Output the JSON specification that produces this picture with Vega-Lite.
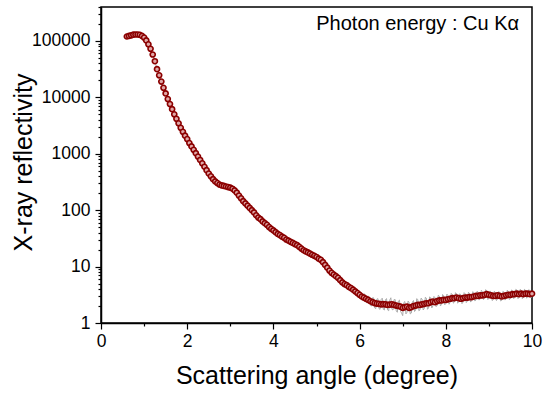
{
  "$schema": "https://vega.github.io/schema/vega-lite/v6.json",
  "width": 431,
  "height": 316,
  "autosize": {"type": "none"},
  "padding": {"left": 101, "top": 7, "right": 11, "bottom": 74},
  "background": "white",
  "config": {
    "view": {"stroke": "black", "strokeWidth": 1.5},
    "font": "Liberation Sans",
    "axis": {
      "grid": false,
      "domainColor": "black",
      "domainWidth": 1.5,
      "tickColor": "black",
      "tickWidth": 1.2,
      "labelColor": "black",
      "titleColor": "black",
      "labelFont": "Liberation Sans",
      "titleFont": "Liberation Sans",
      "labelFontSize": 17.5,
      "titleFontSize": 25,
      "titleFontWeight": "normal",
      "labelOverlap": false,
      "labelFlush": false
    }
  },
  "data": {
    "values": [
      {"x": 0.60, "y": 120000, "m": 120000},
      {"x": 0.65, "y": 123000, "m": 123000},
      {"x": 0.70, "y": 126000, "m": 126000},
      {"x": 0.75, "y": 129000, "m": 129000},
      {"x": 0.80, "y": 130300, "m": 130300},
      {"x": 0.85, "y": 130300, "m": 130300},
      {"x": 0.90, "y": 128800, "m": 128800},
      {"x": 0.95, "y": 123000, "m": 123000},
      {"x": 1.00, "y": 114800, "m": 114800},
      {"x": 1.05, "y": 102300, "m": 102300},
      {"x": 1.10, "y": 87100, "m": 87100},
      {"x": 1.15, "y": 72400, "m": 72400},
      {"x": 1.20, "y": 57500, "m": 57500},
      {"x": 1.25, "y": 43700, "m": 43700},
      {"x": 1.30, "y": 31600, "m": 31600},
      {"x": 1.35, "y": 24550, "m": 24550},
      {"x": 1.40, "y": 19050, "m": 19050},
      {"x": 1.45, "y": 14790, "m": 14790},
      {"x": 1.50, "y": 11750, "m": 11750},
      {"x": 1.55, "y": 9330, "m": 9330},
      {"x": 1.60, "y": 7590, "m": 7590},
      {"x": 1.65, "y": 6170, "m": 6170},
      {"x": 1.70, "y": 5010, "m": 5010},
      {"x": 1.75, "y": 4170, "m": 4170},
      {"x": 1.80, "y": 3470, "m": 3470},
      {"x": 1.85, "y": 2880, "m": 2880},
      {"x": 1.90, "y": 2455, "m": 2455},
      {"x": 1.95, "y": 2090, "m": 2090},
      {"x": 2.00, "y": 1820, "m": 1820},
      {"x": 2.05, "y": 1549, "m": 1549},
      {"x": 2.10, "y": 1349, "m": 1349},
      {"x": 2.15, "y": 1175, "m": 1175},
      {"x": 2.20, "y": 1023, "m": 1023},
      {"x": 2.25, "y": 891, "m": 891},
      {"x": 2.30, "y": 776, "m": 776},
      {"x": 2.35, "y": 676, "m": 676},
      {"x": 2.40, "y": 589, "m": 589},
      {"x": 2.45, "y": 513, "m": 513},
      {"x": 2.50, "y": 447, "m": 447},
      {"x": 2.55, "y": 398, "m": 398},
      {"x": 2.60, "y": 355, "m": 355},
      {"x": 2.65, "y": 324, "m": 324},
      {"x": 2.70, "y": 302, "m": 302},
      {"x": 2.75, "y": 285, "m": 285},
      {"x": 2.80, "y": 275, "m": 275},
      {"x": 2.85, "y": 269, "m": 269},
      {"x": 2.90, "y": 263, "m": 263},
      {"x": 2.95, "y": 257, "m": 257},
      {"x": 3.00, "y": 251, "m": 251},
      {"x": 3.05, "y": 240, "m": 240},
      {"x": 3.10, "y": 224, "m": 224},
      {"x": 3.15, "y": 204, "m": 204},
      {"x": 3.20, "y": 182, "m": 182},
      {"x": 3.25, "y": 162, "m": 162},
      {"x": 3.30, "y": 144.5, "m": 144.5},
      {"x": 3.35, "y": 131.8, "m": 131.8},
      {"x": 3.40, "y": 120.2, "m": 120.2},
      {"x": 3.45, "y": 109.6, "m": 109.6},
      {"x": 3.50, "y": 100, "m": 100},
      {"x": 3.55, "y": 91.2, "m": 91.2},
      {"x": 3.60, "y": 81.3, "m": 81.3},
      {"x": 3.65, "y": 74.1, "m": 74.1},
      {"x": 3.70, "y": 69.2, "m": 69.2},
      {"x": 3.75, "y": 63.1, "m": 63.1},
      {"x": 3.80, "y": 58.9, "m": 58.9},
      {"x": 3.85, "y": 55.0, "m": 55.0},
      {"x": 3.90, "y": 50.1, "m": 50.1},
      {"x": 3.95, "y": 46.8, "m": 46.8},
      {"x": 4.00, "y": 43.7, "m": 43.7},
      {"x": 4.05, "y": 40.7, "m": 40.7},
      {"x": 4.10, "y": 38.0, "m": 38.0},
      {"x": 4.15, "y": 36.3, "m": 36.3},
      {"x": 4.20, "y": 33.9, "m": 33.9},
      {"x": 4.25, "y": 32.4, "m": 32.4},
      {"x": 4.30, "y": 30.2, "m": 30.2},
      {"x": 4.35, "y": 28.8, "m": 28.8},
      {"x": 4.40, "y": 27.5, "m": 27.5},
      {"x": 4.45, "y": 26.3, "m": 26.3},
      {"x": 4.50, "y": 25.1, "m": 25.1},
      {"x": 4.55, "y": 24.0, "m": 24.0},
      {"x": 4.60, "y": 22.4, "m": 22.4},
      {"x": 4.65, "y": 20.9, "m": 20.9},
      {"x": 4.70, "y": 19.5, "m": 19.5},
      {"x": 4.75, "y": 18.6, "m": 18.6},
      {"x": 4.80, "y": 17.8, "m": 17.8},
      {"x": 4.85, "y": 17.0, "m": 17.0},
      {"x": 4.90, "y": 16.2, "m": 16.2},
      {"x": 4.95, "y": 15.5, "m": 15.5},
      {"x": 5.00, "y": 14.8, "m": 14.8},
      {"x": 5.05, "y": 13.8, "m": 13.8},
      {"x": 5.10, "y": 13.2, "m": 13.2},
      {"x": 5.15, "y": 12.0, "m": 12.0},
      {"x": 5.20, "y": 10.7, "m": 10.9},
      {"x": 5.25, "y": 9.55, "m": 9.3},
      {"x": 5.30, "y": 8.51, "m": 8.7},
      {"x": 5.35, "y": 7.76, "m": 7.4},
      {"x": 5.40, "y": 7.24, "m": 7.6},
      {"x": 5.45, "y": 6.76, "m": 6.4},
      {"x": 5.50, "y": 6.31, "m": 6.7},
      {"x": 5.55, "y": 5.75, "m": 5.4},
      {"x": 5.60, "y": 5.25, "m": 5.6},
      {"x": 5.65, "y": 4.90, "m": 4.5},
      {"x": 5.70, "y": 4.68, "m": 5.0},
      {"x": 5.75, "y": 4.37, "m": 3.9},
      {"x": 5.80, "y": 4.17, "m": 4.6},
      {"x": 5.85, "y": 3.89, "m": 3.5},
      {"x": 5.90, "y": 3.63, "m": 4.1},
      {"x": 5.95, "y": 3.39, "m": 2.95},
      {"x": 6.00, "y": 3.16, "m": 3.6},
      {"x": 6.05, "y": 2.95, "m": 2.55},
      {"x": 6.10, "y": 2.82, "m": 3.3},
      {"x": 6.15, "y": 2.69, "m": 2.3},
      {"x": 6.20, "y": 2.57, "m": 3.0},
      {"x": 6.25, "y": 2.43, "m": 2.05},
      {"x": 6.30, "y": 2.34, "m": 2.8},
      {"x": 6.35, "y": 2.26, "m": 1.85},
      {"x": 6.40, "y": 2.21, "m": 2.65},
      {"x": 6.45, "y": 2.19, "m": 1.8},
      {"x": 6.50, "y": 2.14, "m": 2.6},
      {"x": 6.55, "y": 2.16, "m": 1.75},
      {"x": 6.60, "y": 2.14, "m": 2.6},
      {"x": 6.65, "y": 2.09, "m": 1.7},
      {"x": 6.70, "y": 2.11, "m": 2.55},
      {"x": 6.75, "y": 2.14, "m": 1.75},
      {"x": 6.80, "y": 2.09, "m": 2.6},
      {"x": 6.85, "y": 2.04, "m": 1.65},
      {"x": 6.90, "y": 2.00, "m": 2.45},
      {"x": 6.95, "y": 1.95, "m": 1.6},
      {"x": 7.00, "y": 1.86, "m": 1.35},
      {"x": 7.05, "y": 1.91, "m": 2.4},
      {"x": 7.10, "y": 1.95, "m": 1.55},
      {"x": 7.15, "y": 1.86, "m": 2.3},
      {"x": 7.20, "y": 1.91, "m": 1.5},
      {"x": 7.25, "y": 2.00, "m": 2.5},
      {"x": 7.30, "y": 2.04, "m": 1.7},
      {"x": 7.35, "y": 2.09, "m": 2.6},
      {"x": 7.40, "y": 2.09, "m": 1.7},
      {"x": 7.45, "y": 2.14, "m": 2.65},
      {"x": 7.50, "y": 2.19, "m": 1.8},
      {"x": 7.55, "y": 2.24, "m": 2.75},
      {"x": 7.60, "y": 2.24, "m": 1.85},
      {"x": 7.65, "y": 2.34, "m": 2.8},
      {"x": 7.70, "y": 2.40, "m": 2.0},
      {"x": 7.75, "y": 2.34, "m": 2.8},
      {"x": 7.80, "y": 2.45, "m": 2.05},
      {"x": 7.85, "y": 2.51, "m": 3.0},
      {"x": 7.90, "y": 2.51, "m": 2.15},
      {"x": 7.95, "y": 2.57, "m": 3.05},
      {"x": 8.00, "y": 2.57, "m": 2.2},
      {"x": 8.05, "y": 2.63, "m": 3.1},
      {"x": 8.10, "y": 2.69, "m": 2.3},
      {"x": 8.15, "y": 2.75, "m": 3.2},
      {"x": 8.20, "y": 2.75, "m": 2.35},
      {"x": 8.25, "y": 2.82, "m": 3.3},
      {"x": 8.30, "y": 2.75, "m": 2.35},
      {"x": 8.35, "y": 2.69, "m": 3.15},
      {"x": 8.40, "y": 2.75, "m": 2.35},
      {"x": 8.45, "y": 2.82, "m": 3.3},
      {"x": 8.50, "y": 2.82, "m": 2.45},
      {"x": 8.55, "y": 2.88, "m": 3.35},
      {"x": 8.60, "y": 2.88, "m": 2.5},
      {"x": 8.65, "y": 2.95, "m": 3.45},
      {"x": 8.70, "y": 3.02, "m": 2.6},
      {"x": 8.75, "y": 3.02, "m": 3.5},
      {"x": 8.80, "y": 3.09, "m": 2.7},
      {"x": 8.85, "y": 3.09, "m": 3.6},
      {"x": 8.90, "y": 3.16, "m": 2.75},
      {"x": 8.95, "y": 3.24, "m": 3.7},
      {"x": 9.00, "y": 3.16, "m": 2.75},
      {"x": 9.05, "y": 3.09, "m": 3.55},
      {"x": 9.10, "y": 3.02, "m": 2.6},
      {"x": 9.15, "y": 3.02, "m": 3.5},
      {"x": 9.20, "y": 3.09, "m": 2.65},
      {"x": 9.25, "y": 3.02, "m": 3.5},
      {"x": 9.30, "y": 2.95, "m": 2.55},
      {"x": 9.35, "y": 3.02, "m": 3.5},
      {"x": 9.40, "y": 3.09, "m": 2.7},
      {"x": 9.45, "y": 3.16, "m": 3.65},
      {"x": 9.50, "y": 3.16, "m": 2.75},
      {"x": 9.55, "y": 3.24, "m": 3.7},
      {"x": 9.60, "y": 3.24, "m": 2.85},
      {"x": 9.65, "y": 3.31, "m": 3.8},
      {"x": 9.70, "y": 3.24, "m": 2.85},
      {"x": 9.75, "y": 3.31, "m": 3.8},
      {"x": 9.80, "y": 3.24, "m": 2.85},
      {"x": 9.85, "y": 3.31, "m": 3.8},
      {"x": 9.90, "y": 3.31, "m": 2.9},
      {"x": 9.95, "y": 3.24, "m": 3.75},
      {"x": 10.00, "y": 3.31, "m": 2.95},
      {"x": 5.525, "m": 6.3},
      {"x": 5.575, "m": 5.2},
      {"x": 5.625, "m": 5.4},
      {"x": 5.675, "m": 4.5},
      {"x": 5.725, "m": 4.9},
      {"x": 5.775, "m": 4.0},
      {"x": 5.825, "m": 4.4},
      {"x": 5.875, "m": 3.5},
      {"x": 5.925, "m": 3.9},
      {"x": 5.975, "m": 3.0},
      {"x": 6.025, "m": 3.5},
      {"x": 6.075, "m": 2.6},
      {"x": 6.125, "m": 3.2},
      {"x": 6.175, "m": 2.3},
      {"x": 6.225, "m": 2.9},
      {"x": 6.275, "m": 2.0},
      {"x": 6.325, "m": 2.8},
      {"x": 6.375, "m": 1.8},
      {"x": 6.425, "m": 2.7},
      {"x": 6.475, "m": 1.75},
      {"x": 6.525, "m": 2.75},
      {"x": 6.575, "m": 1.7},
      {"x": 6.625, "m": 2.7},
      {"x": 6.675, "m": 1.65},
      {"x": 6.725, "m": 2.8},
      {"x": 6.775, "m": 1.7},
      {"x": 6.825, "m": 2.6},
      {"x": 6.875, "m": 1.55},
      {"x": 6.925, "m": 2.55},
      {"x": 6.975, "m": 1.5},
      {"x": 7.025, "m": 2.3},
      {"x": 7.075, "m": 1.45},
      {"x": 7.125, "m": 2.45},
      {"x": 7.175, "m": 1.45},
      {"x": 7.225, "m": 2.35},
      {"x": 7.275, "m": 1.6},
      {"x": 7.325, "m": 2.7},
      {"x": 7.375, "m": 1.65},
      {"x": 7.425, "m": 2.75},
      {"x": 7.475, "m": 1.7},
      {"x": 7.525, "m": 2.85},
      {"x": 7.575, "m": 1.75},
      {"x": 7.625, "m": 2.9},
      {"x": 7.675, "m": 1.85},
      {"x": 7.725, "m": 2.95},
      {"x": 7.775, "m": 1.95},
      {"x": 7.825, "m": 3.1},
      {"x": 7.875, "m": 2.0},
      {"x": 7.925, "m": 3.2},
      {"x": 7.975, "m": 2.1},
      {"x": 8.025, "m": 3.25},
      {"x": 8.075, "m": 2.15},
      {"x": 8.125, "m": 3.35},
      {"x": 8.175, "m": 2.25},
      {"x": 8.225, "m": 3.45},
      {"x": 8.275, "m": 2.25},
      {"x": 8.325, "m": 3.3},
      {"x": 8.375, "m": 2.2},
      {"x": 8.425, "m": 3.45},
      {"x": 8.475, "m": 2.3},
      {"x": 8.525, "m": 3.5},
      {"x": 8.575, "m": 2.35},
      {"x": 8.625, "m": 3.6},
      {"x": 8.675, "m": 2.45},
      {"x": 8.725, "m": 3.65},
      {"x": 8.775, "m": 2.55},
      {"x": 8.825, "m": 3.8},
      {"x": 8.875, "m": 2.6},
      {"x": 8.925, "m": 3.9},
      {"x": 8.975, "m": 2.6},
      {"x": 9.025, "m": 3.7},
      {"x": 9.075, "m": 2.5},
      {"x": 9.125, "m": 3.65},
      {"x": 9.175, "m": 2.5},
      {"x": 9.225, "m": 3.6},
      {"x": 9.275, "m": 2.45},
      {"x": 9.325, "m": 3.65},
      {"x": 9.375, "m": 2.55},
      {"x": 9.425, "m": 3.8},
      {"x": 9.475, "m": 2.6},
      {"x": 9.525, "m": 3.85},
      {"x": 9.575, "m": 2.7},
      {"x": 9.625, "m": 3.95},
      {"x": 9.675, "m": 2.7},
      {"x": 9.725, "m": 3.95},
      {"x": 9.775, "m": 2.7},
      {"x": 9.825, "m": 3.95},
      {"x": 9.875, "m": 2.75},
      {"x": 9.925, "m": 3.9},
      {"x": 9.975, "m": 2.8}
    ]
  },
  "layer": [
    {
      "mark": {"type": "line", "color": "#aaaaaa", "strokeWidth": 1, "clip": true},
      "encoding": {
        "x": {
          "field": "x", "type": "quantitative",
          "scale": {"domain": [0, 10], "nice": false},
          "axis": {
            "title": "Scattering angle (degree)",
            "values": [0, 1, 2, 3, 4, 5, 6, 7, 8, 9, 10],
            "labelExpr": "datum.value % 2 == 0 ? datum.label : ''",
            "tickSize": {"condition": {"test": "datum.value % 2 == 0", "value": 6}, "value": 3},
            "labelPadding": 3,
            "titleY": 60,
            "titleBaseline": "alphabetic"
          }
        },
        "y": {
          "field": "m", "type": "quantitative",
          "scale": {"type": "log", "domain": [1, 400000], "nice": false},
          "axis": {
            "title": "X-ray reflectivity",
            "values": [1,2,3,4,5,6,7,8,9,10,20,30,40,50,60,70,80,90,100,200,300,400,500,600,700,800,900,1000,2000,3000,4000,5000,6000,7000,8000,9000,10000,20000,30000,40000,50000,60000,70000,80000,90000,100000,200000,300000,400000],
            "labelExpr": "(datum.value == 1 || datum.value == 10 || datum.value == 100 || datum.value == 1000 || datum.value == 10000 || datum.value == 100000) ? format(datum.value, 'd') : ''",
            "tickSize": {"condition": {"test": "datum.value == 1 || datum.value == 10 || datum.value == 100 || datum.value == 1000 || datum.value == 10000 || datum.value == 100000", "value": 6}, "value": 3},
            "labelPadding": 5,
            "titleX": -70,
            "titleY": 155,
            "titleAngle": -90,
            "titleAlign": "center",
            "titleBaseline": "alphabetic"
          }
        }
      }
    },
    {
      "mark": {"type": "point", "shape": "circle", "filled": true, "fill": "#e0a8a8", "stroke": "#8b0000", "strokeWidth": 1.6, "size": 26, "opacity": 1},
      "encoding": {
        "x": {"field": "x", "type": "quantitative", "title": "Scattering angle (degree)"},
        "y": {"field": "y", "type": "quantitative", "title": "X-ray reflectivity"}
      }
    },
    {
      "data": {"values": [{}]},
      "mark": {"type": "text", "align": "right", "baseline": "alphabetic", "fontSize": 20, "font": "Liberation Sans", "color": "black"},
      "encoding": {
        "x": {"datum": 9.7, "type": "quantitative"},
        "y": {"datum": 155000, "type": "quantitative"},
        "text": {"value": "Photon energy : Cu Kα"}
      }
    }
  ]
}
